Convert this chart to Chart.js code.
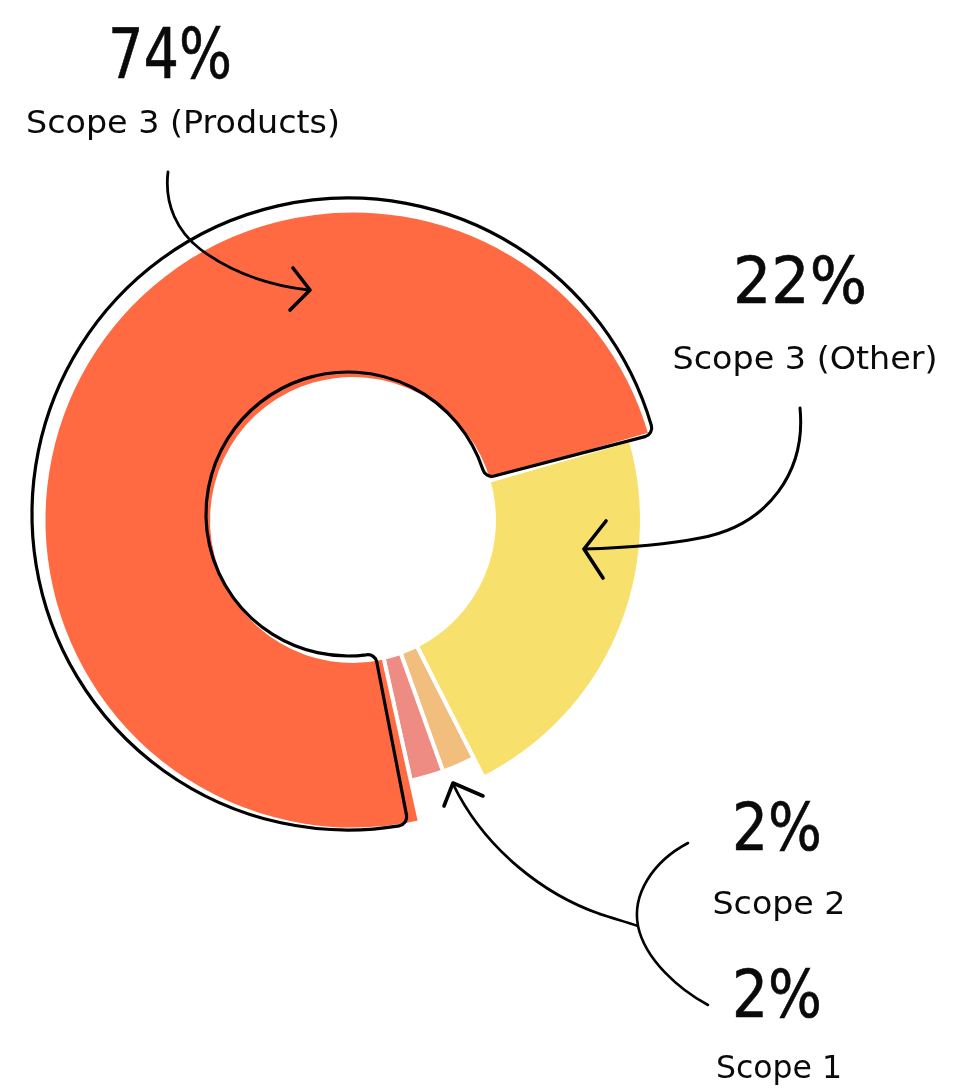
<!DOCTYPE html>
<html>
<head>
<meta charset="utf-8">
<script src="https://cdn.jsdelivr.net/npm/chart.js@4/dist/chart.umd.min.js"></script>
<style>
  html, body { margin: 0; padding: 0; background: #ffffff; }
  #wrap { position: relative; width: 964px; height: 1088px; overflow: hidden; background: #fff; }
  canvas { position: absolute; }
  svg { position: absolute; left: 0; top: 0; }
  .lab { font-family: "DejaVu Sans", sans-serif; font-size: 32px; fill: #0a0a0a; }
  .pct { font-family: "DejaVu Sans", sans-serif; fill: #0a0a0a; stroke: #0a0a0a; stroke-width: 0.6px; }
</style>
</head>
<body>
<div id="wrap">
  <canvas id="ringSmall" width="700" height="700" style="left:3px;top:170px"></canvas>
  <canvas id="ringYellow" width="700" height="700" style="left:3px;top:170px"></canvas>
  <canvas id="ringRed" width="700" height="700" style="left:3px;top:170px"></canvas>
  <canvas id="ringOutline" width="700" height="700" style="left:-2px;top:164px"></canvas>
  <svg id="ann" width="964" height="1088" viewBox="0 0 964 1088"></svg>
</div>
<script>
// ---- data ----
const categories = ['Scope 3 (Products)', 'Scope 3 (Other)', 'Scope 1', 'Scope 2'];
const shares = [74, 22, 2, 2];
const pctLabels = ['74%', '22%', '2%', '2%'];
const sliceColors = ['#FF6A42', '#F7E16C', '#F2BE7D', '#EE8C84'];

// ---- helpers ----
function ring(id, outerR, innerR, visible, opts) {
  opts = opts || {};
  const outline = !!opts.outline;
  return new Chart(document.getElementById(id), {
    type: 'doughnut',
    data: {
      labels: categories,
      datasets: [{
        data: shares,
        backgroundColor: c => (!outline && visible.includes(c.dataIndex)) ? sliceColors[c.dataIndex] : 'rgba(0,0,0,0)',
        borderColor: c => visible.includes(c.dataIndex) ? (outline ? '#000000' : '#ffffff') : 'rgba(0,0,0,0)',
        borderWidth: c => visible.includes(c.dataIndex) ? (outline ? 3.2 : 4) : 0,
        borderRadius: outline ? 9 : 0,
        borderAlign: 'center',
        hoverOffset: 0
      }]
    },
    options: {
      responsive: false,
      animation: false,
      events: [],
      rotation: opts.rotation,
      radius: outerR,
      cutout: (innerR / outerR * 100) + '%',
      layout: { padding: 0 },
      plugins: { legend: { display: false }, tooltip: { enabled: false } }
    }
  });
}

ring('ringSmall', 267, 141, [2, 3], { rotation: 167.5 });
ring('ringYellow', 289, 141, [1], { rotation: 167.5 });
ring('ringRed', 309.5, 141, [0], { rotation: 167.5 });
ring('ringOutline', 316, 142, [0], { rotation: 169, outline: true });

// ---- annotations (text + hand-drawn arrows) ----
const svgNS = 'http://www.w3.org/2000/svg';
const svg = document.getElementById('ann');
function path(d, w) {
  const p = document.createElementNS(svgNS, 'path');
  p.setAttribute('d', d);
  p.setAttribute('fill', 'none');
  p.setAttribute('stroke', '#000');
  p.setAttribute('stroke-width', w);
  p.setAttribute('stroke-linecap', 'round');
  p.setAttribute('stroke-linejoin', 'round');
  svg.appendChild(p);
}
function text(str, x, y, cls, size, len) {
  const t = document.createElementNS(svgNS, 'text');
  t.setAttribute('x', x);
  t.setAttribute('y', y);
  t.setAttribute('text-anchor', 'middle');
  t.setAttribute('class', cls);
  if (size) t.setAttribute('font-size', size);
  if (len) { t.setAttribute('textLength', len); t.setAttribute('lengthAdjust', 'spacingAndGlyphs'); }
  t.textContent = str;
  svg.appendChild(t);
}

// arrows
path('M168,172 C164,205 178,232 200,249 C228,270 265,285 309,290', 2.8);
path('M293,268 L310,290 L290,310', 3.6);
path('M800,408 C806,470 770,525 700,538 C660,546 620,548 584,549', 3);
path('M606,521 L584,549 L603,578', 3.6);
path('M600,914 C612,918 626,922 638,926', 2.4);
path('M600,914 C545,895 485,850 453,784', 2.8);
path('M483,796 L453,783 L444,806', 3.6);
path('M688,843 C652,862 632,895 638,926 C645,960 680,990 708,1005', 2.6);

// labels
text(pctLabels[0], 170, 78, 'pct', 70, 124);
text(categories[0], 183, 133, 'lab', null, 314);
text(pctLabels[1], 800, 303, 'pct', 64, 134);
text(categories[1], 805, 369, 'lab', null, 265);
text(pctLabels[3], 777, 850, 'pct', 66, 90);
text(categories[3], 779, 914, 'lab', null, 133);
text(pctLabels[2], 777, 1017, 'pct', 66, 90);
text(categories[2], 779, 1078, 'lab', null, 126);
</script>
</body>
</html>
